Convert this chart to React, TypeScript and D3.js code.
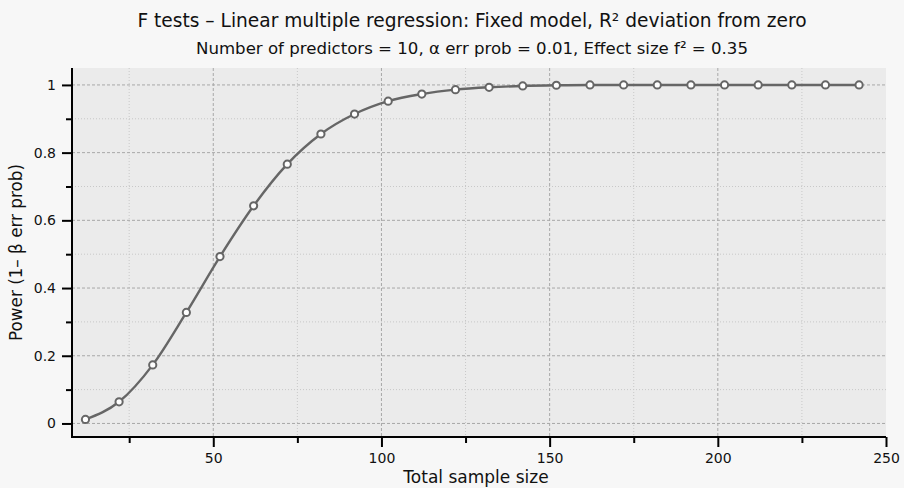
import React, { useEffect, useRef } from "react";
import * as d3 from "d3";

// Total sample size at each computed point
const sampleSizes = [12, 22, 32, 42, 52, 62, 72, 82, 92, 102, 112, 122, 132, 142, 152, 162, 172, 182, 192, 202, 212, 222, 232, 242];
// Power (1 - beta)
const powerValues = [0.012, 0.064, 0.173, 0.328, 0.493, 0.643, 0.766, 0.855, 0.914, 0.952, 0.973, 0.986, 0.993, 0.997, 0.999, 1, 1, 1, 1, 1, 1, 1, 1, 1];

const xMajorTicks = [50, 100, 150, 200, 250];
const xMinorTicks = [25, 75, 125, 175, 225];
const yMajorTicks = [0, 0.2, 0.4, 0.6, 0.8, 1];
const yMinorTicks = [0.1, 0.3, 0.5, 0.7, 0.9];

const title = "F tests \u2013 Linear multiple regression: Fixed model, R\u00b2 deviation from zero";
const subtitle = "Number of predictors = 10, \u03b1 err prob = 0.01, Effect size f\u00b2 = 0.35";
const xLabel = "Total sample size";
const yLabel = "Power (1\u2013 \u03b2 err prob)";

const W = 904;
const H = 488;
const FONT = "DejaVu Sans, sans-serif";

const PowerChart = () => {
  const ref = useRef(null);

  useEffect(() => {
    const margin = { top: 68, right: 18, bottom: 51, left: 72 };
    const width = W - margin.left - margin.right;
    const height = H - margin.top - margin.bottom;

    d3.select(ref.current).selectAll("*").remove();
    const root = d3.select(ref.current);

    root.append("rect").attr("width", W).attr("height", H).attr("fill", "#f7f7f7");

    // titles
    root.append("text")
      .attr("x", 472).attr("y", 27)
      .attr("text-anchor", "middle")
      .attr("font-family", FONT).attr("font-size", 18.6).attr("fill", "#111")
      .text(title);
    root.append("text")
      .attr("x", 472).attr("y", 54)
      .attr("text-anchor", "middle")
      .attr("font-family", FONT).attr("font-size", 16.6).attr("fill", "#111")
      .text(subtitle);

    const svg = root.append("g").attr("transform", `translate(${margin.left},${margin.top})`);

    const x = d3.scaleLinear().domain([8, 250]).range([0, width]);
    const y = d3.scaleLinear().domain([-0.04, 1.05]).range([height, 0]);

    svg.append("rect").attr("width", width).attr("height", height).attr("fill", "#ebebeb");

    // grid
    const grid = svg.append("g");
    grid.selectAll("line.ymin").data(yMinorTicks).join("line")
      .attr("x1", 0).attr("x2", width)
      .attr("y1", (d) => y(d)).attr("y2", (d) => y(d))
      .attr("stroke", "#c8c8c8").attr("stroke-dasharray", "1,2");
    grid.selectAll("line.xmin").data(xMinorTicks).join("line")
      .attr("y1", 0).attr("y2", height)
      .attr("x1", (d) => x(d)).attr("x2", (d) => x(d))
      .attr("stroke", "#c8c8c8").attr("stroke-dasharray", "1,2");
    grid.selectAll("line.ymaj").data(yMajorTicks).join("line")
      .attr("x1", 0).attr("x2", width)
      .attr("y1", (d) => y(d)).attr("y2", (d) => y(d))
      .attr("stroke", "#a8a8a8").attr("stroke-dasharray", "3,2");
    grid.selectAll("line.xmaj").data(xMajorTicks.filter((d) => d < 250)).join("line")
      .attr("y1", 0).attr("y2", height)
      .attr("x1", (d) => x(d)).attr("x2", (d) => x(d))
      .attr("stroke", "#a8a8a8").attr("stroke-dasharray", "3,2");

    // curve
    const pts = sampleSizes.map((n, i) => [n, powerValues[i]]);
    const line = d3.line().x((d) => x(d[0])).y((d) => y(d[1])).curve(d3.curveMonotoneX);
    svg.append("path").datum(pts).attr("d", line)
      .attr("fill", "none").attr("stroke", "#666").attr("stroke-width", 2.4);
    svg.selectAll("circle").data(pts).join("circle")
      .attr("cx", (d) => x(d[0])).attr("cy", (d) => y(d[1])).attr("r", 3.6)
      .attr("fill", "#fff").attr("stroke", "#666").attr("stroke-width", 2);

    // y axis
    const yAxis = svg.append("g")
      .call(d3.axisLeft(y).tickValues(yMajorTicks).tickSize(10).tickPadding(6).tickFormat(d3.format("")));
    yAxis.select(".domain").remove();
    yAxis.selectAll(".tick line").attr("stroke", "#000").attr("stroke-width", 2);
    yAxis.selectAll(".tick text").attr("font-family", FONT).attr("font-size", 14).attr("fill", "#111");
    svg.append("g")
      .call(d3.axisLeft(y).tickValues(yMinorTicks).tickSize(6).tickFormat(() => ""))
      .call((g) => g.select(".domain").remove())
      .selectAll(".tick line").attr("stroke", "#000").attr("stroke-width", 2);

    // x axis
    const xAxis = svg.append("g").attr("transform", `translate(0,${height})`)
      .call(d3.axisBottom(x).tickValues(xMajorTicks).tickSize(10).tickPadding(6));
    xAxis.select(".domain").remove();
    xAxis.selectAll(".tick line").attr("stroke", "#000").attr("stroke-width", 2);
    xAxis.selectAll(".tick text").attr("font-family", FONT).attr("font-size", 14).attr("fill", "#111");
    svg.append("g").attr("transform", `translate(0,${height})`)
      .call(d3.axisBottom(x).tickValues(xMinorTicks).tickSize(6).tickFormat(() => ""))
      .call((g) => g.select(".domain").remove())
      .selectAll(".tick line").attr("stroke", "#000").attr("stroke-width", 2);

    // axis lines
    svg.append("line").attr("x1", 0).attr("x2", 0).attr("y1", 0).attr("y2", height + 1)
      .attr("stroke", "#000").attr("stroke-width", 2);
    svg.append("line").attr("x1", -1).attr("x2", width).attr("y1", height).attr("y2", height)
      .attr("stroke", "#000").attr("stroke-width", 2);

    // axis labels
    root.append("text")
      .attr("x", 476).attr("y", 483)
      .attr("text-anchor", "middle")
      .attr("font-family", FONT).attr("font-size", 17).attr("fill", "#111")
      .text(xLabel);
    root.append("text")
      .attr("transform", `translate(22,${margin.top + height / 2}) rotate(-90)`)
      .attr("text-anchor", "middle")
      .attr("font-family", FONT).attr("font-size", 16.8).attr("fill", "#111")
      .text(yLabel);
  }, []);

  return <svg ref={ref} width={W} height={H} style={{ display: "block" }}></svg>;
};

export default function App() {
  return (
    <div>
      <style>{"body{margin:0}"}</style>
      <PowerChart />
    </div>
  );
}
